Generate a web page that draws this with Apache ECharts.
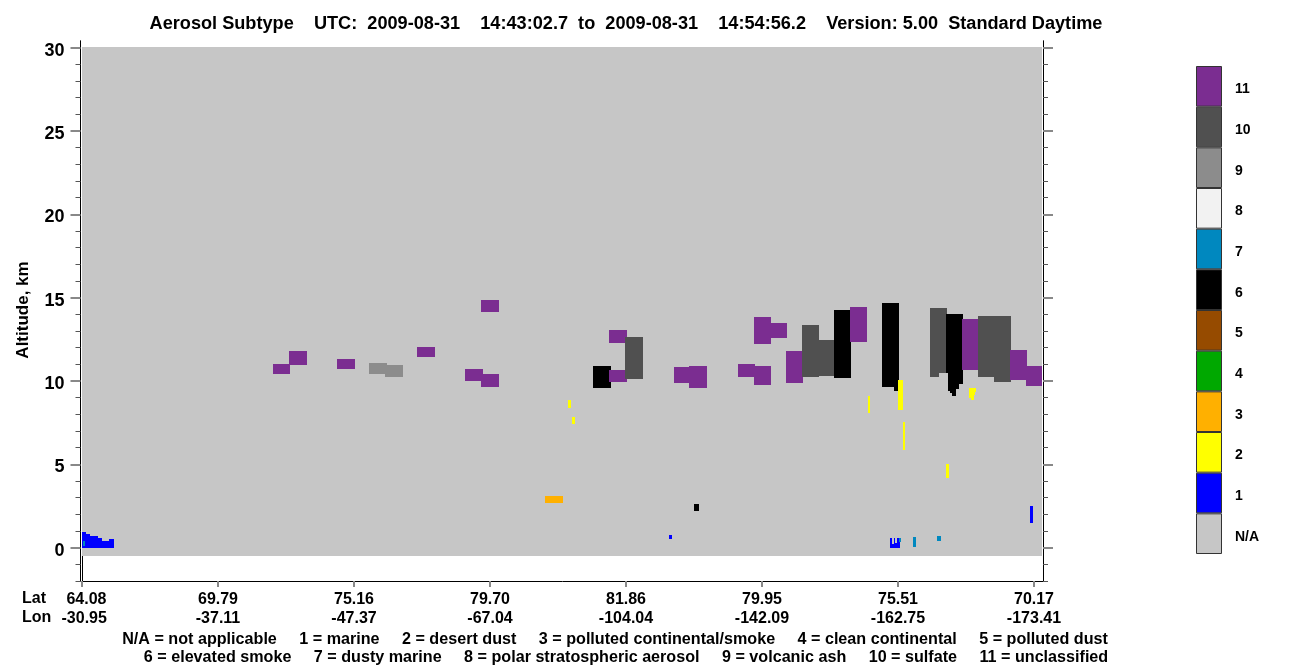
<!DOCTYPE html>
<html>
<head>
<meta charset="utf-8">
<style>html,body{margin:0;padding:0;background:#fff}#c{width:1300px;height:667px}</style>
<script src="https://cdn.jsdelivr.net/npm/echarts@6/dist/echarts.min.js"></script>
</head>
<body>
<div id="c"></div>
<script>
const FONT = '"Liberation Sans", Arial, sans-serif';
const chartTitle = 'Aerosol Subtype    UTC:  2009-08-31    14:43:02.7  to  2009-08-31    14:54:56.2    Version: 5.00  Standard Daytime';
const legendRow1 = 'N/A = not applicable     1 = marine     2 = desert dust     3 = polluted continental/smoke     4 = clean continental     5 = polluted dust';
const legendRow2 = '6 = elevated smoke     7 = dusty marine     8 = polar stratospheric aerosol     9 = volcanic ash     10 = sulfate     11 = unclassified';
const tickPositions = [0, 136, 272, 408, 544, 680, 816, 952];
const latLabels = ['64.08', '69.79', '75.16', '79.70', '81.86', '79.95', '75.51', '70.17'];
const lonLabels = ['-30.95', '-37.11', '-47.37', '-67.04', '-104.04', '-142.09', '-162.75', '-173.41'];
const altMajor = [0, 5, 10, 15, 20, 25, 30];
const altMinor = [-2, -1, 1, 2, 3, 4, 6, 7, 8, 9, 11, 12, 13, 14, 16, 17, 18, 19, 21, 22, 23, 24, 26, 27, 28, 29];
const subtypeNames = ['N/A', '1', '2', '3', '4', '5', '6', '7', '8', '9', '10', '11'];
const subtypeColors = ['#c6c6c6', '#0000ff', '#ffff00', '#ffb000', '#00a800', '#964b00', '#000000', '#0088bf', '#f2f2f2', '#8c8c8c', '#505050', '#7b2d91'];
// Detected layers, left to right (later layers paint over earlier ones)
const layerStart = [0, 0, 4, 8, 16, 20, 27, 1, 191, 207, 255, 287, 303, 335, 383, 399, 399, 463, 486, 490, 511, 527, 527, 543, 587, 592, 607, 612, 656, 672, 672, 689, 704, 720, 737, 752, 768, 786, 800, 812, 808, 810, 811.5, 813, 815, 816, 821, 817, 831, 848, 857, 855, 864, 864, 866, 868, 870, 874, 877, 887, 889, 892, 893, 880, 896, 912, 928, 944, 948];
const layerEnd = [960, 4, 8, 16, 20, 27, 32, 2.5, 208, 225, 273, 305, 321, 353, 401, 417, 417, 481, 489, 493, 529, 545, 545, 561, 590, 608, 625, 617, 673, 689, 689, 705, 721, 737, 752, 769, 785, 788, 812, 817, 810, 811.5, 813, 815, 818, 821, 823, 819, 834, 857, 865, 859, 867, 866, 868, 870, 874, 877, 881, 889, 892, 893, 894, 896, 912, 929, 945, 960, 951];
const layerBase = [-0.5, 0, 0, 0, 0, 0, 0, 0.1, 10.43, 10.97, 10.73, 10.43, 10.25, 11.45, 10.0, 9.65, 14.15, 2.69, 8.39, 7.43, 9.59, 9.95, 12.29, 10.13, 0.53, 9.89, 9.59, 2.21, 10.25, 9.77, 12.23, 12.59, 9.89, 10.25, 10.31, 10.19, 12.35, 8.09, 9.65, 9.41, 0, 0, 0, 0, 0, 8.27, 5.87, 0.35, 0.05, 10.25, 10.49, 0.41, 4.19, 10.49, 9.41, 9.29, 9.11, 9.53, 9.83, 8.99, 8.87, 9.17, 9.35, 10.67, 10.25, 9.95, 10.07, 9.71, 1.49];
const layerTop = [30.05, 0.95, 0.83, 0.71, 0.59, 0.41, 0.53, 0.41, 11.03, 11.81, 11.33, 11.09, 10.97, 12.05, 10.73, 10.43, 14.87, 3.11, 8.87, 7.85, 10.91, 10.67, 13.07, 12.65, 0.77, 10.85, 10.91, 2.63, 11.03, 10.91, 13.85, 13.49, 11.81, 13.37, 12.47, 14.27, 14.45, 9.11, 14.69, 14.69, 0.59, 0.23, 0.59, 0.29, 0.59, 10.07, 7.55, 0.59, 0.65, 14.38, 14.38, 0.71, 5.03, 14.03, 14.03, 14.03, 14.03, 14.03, 14.03, 9.59, 9.59, 9.59, 9.59, 13.73, 13.91, 13.91, 11.87, 10.91, 2.51];
const layerType = [0, 1, 1, 1, 1, 1, 1, 7, 11, 11, 11, 9, 9, 11, 11, 11, 11, 3, 2, 2, 6, 11, 11, 10, 1, 11, 11, 6, 11, 11, 11, 11, 11, 10, 10, 6, 11, 2, 6, 6, 1, 1, 1, 1, 1, 2, 2, 7, 7, 10, 10, 7, 2, 6, 6, 6, 6, 6, 6, 2, 2, 2, 2, 11, 10, 10, 11, 11, 1];

const layers = layerStart.map((s, i) => [s, layerEnd[i], layerBase[i], layerTop[i], layerType[i]]);
const chart = echarts.init(document.getElementById('c'), null, {renderer: 'canvas'});
const ALT_MIN = -2, ALT_MAX = 30.4;
const altAxis = (position, ticks, length, color, width, withLabels, offset) => ({
  type: 'value', gridIndex: 0, position, min: ALT_MIN, max: ALT_MAX, offset: offset || 0,
  splitLine: {show: false},
  axisLine: {show: true, onZero: false, lineStyle: {color: '#000', width: 1}},
  axisTick: {show: true, customValues: ticks, length, lineStyle: {color, width}},
  axisLabel: withLabels
    ? {show: true, customValues: ticks, margin: 16, verticalAlign: 'top', lineHeight: 6, color: '#000', fontFamily: FONT, fontWeight: 'bold', fontSize: 18}
    : {show: false}
});
const textEl = (text, x, y, font, extra) => ({
  type: 'text', x, y, silent: true,
  style: Object.assign({text, fill: '#000', font, textAlign: 'center', textVerticalAlign: 'middle'}, extra || {})
});
const boldFont = s => 'bold ' + s + 'px ' + FONT;

chart.setOption({
  animation: false,
  backgroundColor: '#fff',
  grid: [
    {left: 82, top: 41, width: 961, height: 540},
    {left: 1196, top: 66, width: 26, height: 488}
  ],
  xAxis: [
    {type: 'value', gridIndex: 0, min: 0, max: 961, position: 'bottom',
      splitLine: {show: false},
      axisLine: {show: true, onZero: false, lineStyle: {color: '#000', width: 1}},
      axisTick: {show: true, customValues: tickPositions, length: 6, lineStyle: {color: '#888', width: 2}},
      axisLabel: {show: true, customValues: tickPositions, margin: 9, color: '#000', fontFamily: FONT, fontWeight: 'bold', fontSize: 16, lineHeight: 19,
        formatter: v => {
          const i = tickPositions.indexOf(v);
          return (i === 0 ? '  ' : '') + latLabels[i] + '\n' + (i === 0 ? ' ' : '') + lonLabels[i];
        }}},
    {type: 'value', gridIndex: 1, min: 0, max: 1, show: false}
  ],
  yAxis: [
    altAxis('left', altMajor, 10, '#888', 2, true, 1.5),
    altAxis('left', altMinor, 5, '#555', 1, false, 1.5),
    altAxis('right', altMajor, 10, '#888', 2, false),
    altAxis('right', altMinor, 5, '#555', 1, false),
    {type: 'category', gridIndex: 1, position: 'right', data: subtypeNames,
      axisLine: {show: false}, axisTick: {show: false}, splitLine: {show: false},
      axisLabel: {show: true, interval: 0, margin: 13, align: 'left', verticalAlign: 'top', lineHeight: 6, color: '#000', fontFamily: FONT, fontWeight: 'bold', fontSize: 14}}
  ],
  series: [
    {type: 'custom', xAxisIndex: 0, yAxisIndex: 0, clip: false, silent: true,
      data: layers,
      encode: {x: [0, 1], y: [2, 3]},
      renderItem: (params, api) => {
        const a = api.coord([api.value(0), api.value(3)]);
        const b = api.coord([api.value(1), api.value(2)]);
        const x = Math.round(a[0]), y = Math.round(a[1]);
        return {type: 'rect',
          shape: {x, y, width: Math.round(b[0]) - x, height: Math.round(b[1]) - y},
          style: {fill: subtypeColors[api.value(4)]}};
      },
      markLine: {silent: true, symbol: 'none', label: {show: false}, animation: false,
        lineStyle: {color: '#000', width: 1, type: 'solid'},
        data: [[{coord: [0, ALT_MIN]}, {coord: [0, -0.5]}]]}},
    {type: 'bar', xAxisIndex: 1, yAxisIndex: 4, silent: true, barCategoryGap: 0, barWidth: '100%',
      data: subtypeNames.map((n, i) => ({value: 1, itemStyle: {color: subtypeColors[i], borderColor: '#333', borderWidth: 1}}))}
  ],
  graphic: [
    textEl(chartTitle, 626, 24, boldFont(18.15)),
    Object.assign(textEl('Altitude, km', 23, 310, boldFont(17)), {rotation: Math.PI / 2}),
    textEl('Lat', 22, 599, boldFont(16), {textAlign: 'left'}),
    textEl('Lon', 22, 618, boldFont(16), {textAlign: 'left'}),
    textEl(legendRow1, 615, 640, boldFont(16.15)),
    textEl(legendRow2, 626, 658, boldFont(16.15))
  ]
});
</script>
</body>
</html>
